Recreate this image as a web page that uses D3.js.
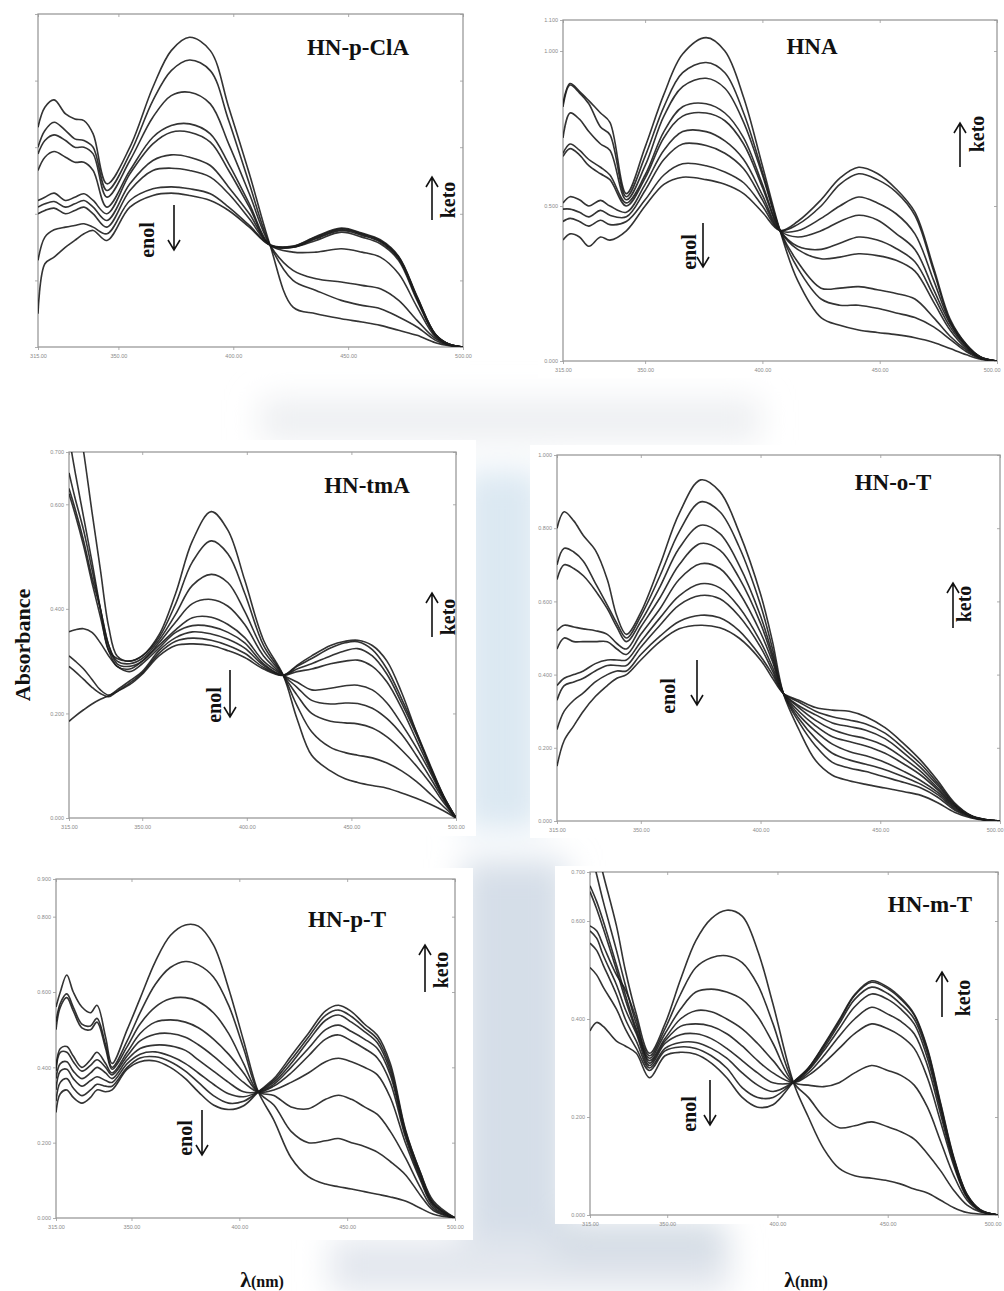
<!DOCTYPE html>
<html><head><meta charset="utf-8">
<script src="https://cdn.jsdelivr.net/npm/d3@7"></script>
<style>
html,body{margin:0;padding:0;background:#fff;}
svg{display:block;}
</style></head><body>
<svg id="fig" width="1004" height="1291"></svg>
<script>
// ---------------- DATA ----------------
const panelTitles = ["HN-p-ClA","HNA","HN-tmA","HN-o-T","HN-p-T","HN-m-T"];
const xTickValues = [315,350,400,450,500];
const xTickLabels = ["315.00","350.00","400.00","450.00","500.00"];
const yMaxes = [1.0,1.1,0.7,1.0,0.9,0.7];
const yTicks1 = [0,0.2,0.4,0.6,0.8,1.0];
const yTicks2 = [0,0.5,1.0,1.1];
const yTicks3 = [0,0.2,0.4,0.6,0.7];
const yTicks4 = [0,0.2,0.4,0.6,0.8,1.0];
const yTicks5 = [0,0.2,0.4,0.6,0.8,0.9];
const yTicks6 = [0,0.2,0.4,0.6,0.7];
const yLabels1 = ["","","","","",""];
const yLabels2 = ["0.000","0.500","1.000","1.100"];
const yLabels3 = ["0.000","0.200","0.400","0.600","0.700"];
const yLabels4 = ["0.000","0.200","0.400","0.600","0.800","1.000"];
const yLabels5 = ["0.000","0.200","0.400","0.600","0.800","0.900"];
const yLabels6 = ["0.000","0.200","0.400","0.600","0.700"];

// HN-p-ClA
const wl1 = [315,318,322,327,331,335,339,345,355,365,373,381,390,398,407,416,426,436,447,456,464,472,480,488,494,500];
const spectra1 = [
 [0.66,0.72,0.742,0.70,0.685,0.68,0.64,0.49,0.60,0.78,0.89,0.93,0.89,0.72,0.52,0.306,0.12,0.10,0.085,0.075,0.065,0.05,0.035,0.013,0.004,0],
 [0.60,0.65,0.675,0.65,0.625,0.62,0.60,0.47,0.58,0.74,0.83,0.862,0.83,0.68,0.49,0.306,0.20,0.17,0.14,0.125,0.115,0.09,0.06,0.02,0.005,0],
 [0.58,0.62,0.637,0.62,0.60,0.60,0.58,0.45,0.56,0.69,0.755,0.765,0.73,0.61,0.46,0.306,0.23,0.205,0.195,0.185,0.175,0.14,0.08,0.025,0.006,0],
 [0.53,0.57,0.587,0.57,0.555,0.555,0.53,0.42,0.53,0.63,0.665,0.67,0.64,0.55,0.43,0.306,0.285,0.285,0.295,0.285,0.27,0.22,0.12,0.03,0.007,0],
 [0.44,0.45,0.462,0.44,0.45,0.46,0.44,0.40,0.52,0.61,0.645,0.645,0.615,0.53,0.42,0.306,0.30,0.32,0.345,0.33,0.31,0.26,0.14,0.035,0.008,0],
 [0.42,0.43,0.437,0.42,0.43,0.44,0.42,0.38,0.49,0.56,0.577,0.57,0.545,0.48,0.40,0.306,0.30,0.325,0.35,0.335,0.315,0.265,0.145,0.036,0.008,0],
 [0.40,0.41,0.417,0.40,0.41,0.42,0.40,0.36,0.47,0.53,0.537,0.53,0.51,0.46,0.385,0.306,0.30,0.327,0.352,0.338,0.318,0.268,0.148,0.037,0.008,0],
 [0.26,0.33,0.352,0.36,0.365,0.37,0.36,0.34,0.44,0.475,0.481,0.475,0.46,0.42,0.365,0.306,0.302,0.33,0.355,0.34,0.32,0.27,0.15,0.038,0.008,0],
 [0.10,0.25,0.27,0.30,0.32,0.34,0.35,0.32,0.42,0.455,0.462,0.455,0.44,0.41,0.36,0.306,0.303,0.332,0.357,0.342,0.322,0.272,0.152,0.038,0.008,0]
];

// HNA
const wl2 = [315,318,322,326,331,335,342,350,358,366,376,384,392,400,407.5,415,425,433,441,449,457,465,473,480,487,493,500];
const spectra2 = [
 [0.83,0.895,0.87,0.84,0.80,0.77,0.54,0.69,0.86,0.99,1.043,1.00,0.85,0.63,0.421,0.26,0.14,0.115,0.10,0.092,0.085,0.075,0.06,0.04,0.02,0.006,0],
 [0.82,0.89,0.865,0.83,0.755,0.73,0.53,0.66,0.82,0.93,0.963,0.93,0.80,0.61,0.421,0.30,0.20,0.18,0.18,0.17,0.155,0.14,0.11,0.07,0.03,0.008,0],
 [0.72,0.80,0.78,0.74,0.70,0.68,0.52,0.63,0.79,0.885,0.912,0.88,0.77,0.60,0.421,0.32,0.235,0.235,0.24,0.23,0.218,0.20,0.14,0.08,0.035,0.009,0],
 [0.67,0.70,0.68,0.65,0.625,0.60,0.51,0.60,0.74,0.82,0.83,0.80,0.72,0.57,0.421,0.36,0.33,0.335,0.346,0.34,0.325,0.29,0.19,0.10,0.04,0.01,0],
 [0.66,0.685,0.665,0.63,0.604,0.585,0.50,0.59,0.72,0.79,0.80,0.775,0.70,0.56,0.421,0.37,0.36,0.38,0.40,0.39,0.363,0.32,0.21,0.11,0.045,0.011,0],
 [0.51,0.53,0.52,0.50,0.518,0.50,0.48,0.57,0.68,0.74,0.74,0.71,0.65,0.535,0.421,0.40,0.42,0.45,0.47,0.455,0.411,0.36,0.23,0.12,0.048,0.012,0],
 [0.49,0.49,0.48,0.465,0.486,0.47,0.465,0.55,0.65,0.70,0.695,0.67,0.62,0.52,0.421,0.42,0.46,0.50,0.529,0.51,0.475,0.41,0.26,0.125,0.05,0.012,0],
 [0.45,0.46,0.45,0.435,0.454,0.44,0.45,0.52,0.60,0.636,0.63,0.61,0.575,0.50,0.421,0.44,0.50,0.57,0.604,0.585,0.545,0.47,0.29,0.13,0.052,0.013,0],
 [0.39,0.41,0.40,0.37,0.40,0.39,0.42,0.50,0.57,0.593,0.585,0.57,0.54,0.48,0.421,0.45,0.52,0.59,0.625,0.605,0.555,0.48,0.30,0.135,0.053,0.013,0]
];

// HN-tmA
const wl3 = [315,318,322,326,330,334,338,344,350,358,366,374,383,391,399,408,417.4,424,431,440,447,453,460,467,474,481,488,494,500];
const spectra3 = [
 [0.90,0.80,0.70,0.585,0.475,0.365,0.31, 0.30,0.31,0.35,0.43,0.53,0.586,0.55,0.455,0.34,0.273, 0.19,0.12,0.09,0.075,0.068,0.062,0.057,0.048,0.038,0.026,0.014,0],
 [0.73,0.66,0.575,0.49,0.40,0.32,0.305, 0.30,0.31,0.345,0.41,0.49,0.53,0.505,0.43,0.33,0.273, 0.215,0.165,0.135,0.125,0.12,0.115,0.105,0.09,0.07,0.045,0.022,0],
 [0.66,0.61,0.55,0.475,0.40,0.33,0.30, 0.295,0.305,0.34,0.39,0.445,0.466,0.45,0.395,0.32,0.273, 0.235,0.20,0.185,0.182,0.18,0.172,0.155,0.13,0.10,0.065,0.03,0],
 [0.63,0.59,0.53,0.46,0.40,0.33,0.295, 0.29,0.30,0.335,0.375,0.41,0.418,0.405,0.37,0.31,0.273, 0.25,0.225,0.218,0.22,0.219,0.21,0.19,0.16,0.12,0.075,0.035,0],
 [0.62,0.58,0.52,0.45,0.385,0.32,0.29, 0.285,0.30,0.33,0.36,0.383,0.384,0.37,0.345,0.30,0.273, 0.26,0.245,0.248,0.253,0.254,0.245,0.22,0.18,0.135,0.085,0.038,0],
 [0.356,0.36,0.362,0.355,0.335,0.31,0.29, 0.28,0.295,0.325,0.355,0.368,0.366,0.355,0.335,0.295,0.273, 0.28,0.285,0.295,0.30,0.302,0.29,0.26,0.21,0.15,0.09,0.04,0],
 [0.31,0.30,0.285,0.265,0.245,0.235,0.245, 0.262,0.28,0.32,0.345,0.356,0.352,0.342,0.325,0.292,0.273, 0.285,0.295,0.31,0.32,0.324,0.31,0.275,0.22,0.16,0.095,0.042,0],
 [0.29,0.28,0.265,0.25,0.238,0.232,0.242, 0.258,0.277,0.315,0.338,0.344,0.34,0.33,0.315,0.288,0.273, 0.29,0.305,0.325,0.335,0.337,0.322,0.285,0.228,0.165,0.098,0.043,0],
 [0.185,0.195,0.207,0.218,0.227,0.234,0.242, 0.255,0.275,0.31,0.33,0.333,0.33,0.32,0.307,0.285,0.273, 0.292,0.31,0.33,0.338,0.340,0.33,0.30,0.24,0.165,0.095,0.042,0]
];

// HN-o-T
const wl4 = [315,318,322,326,331,336,340,344,350,358,366,375,383,391,400,405,409.5,416,423,430,437,444,452,460,467,474,481,488,494,500];
const spectra4 = [
 [0.80,0.845,0.82,0.78,0.74,0.66,0.56, 0.51,0.57,0.70,0.84,0.932,0.90,0.79,0.62,0.49,0.349, 0.25,0.165,0.125,0.11,0.10,0.09,0.08,0.07,0.05,0.024,0.008,0.002,0],
 [0.70,0.745,0.735,0.71,0.65,0.59,0.54, 0.50,0.56,0.67,0.79,0.872,0.845,0.75,0.59,0.47,0.349, 0.27,0.205,0.16,0.145,0.135,0.12,0.105,0.09,0.065,0.03,0.01,0.003,0],
 [0.66,0.70,0.69,0.67,0.63,0.58,0.53, 0.49,0.545,0.64,0.745,0.808,0.785,0.70,0.56,0.455,0.349, 0.28,0.225,0.185,0.167,0.155,0.14,0.12,0.10,0.072,0.034,0.011,0.003,0],
 [0.52,0.535,0.53,0.525,0.52,0.51,0.485, 0.47,0.53,0.61,0.70,0.758,0.74,0.665,0.54,0.445,0.349, 0.29,0.245,0.21,0.19,0.178,0.16,0.135,0.11,0.078,0.037,0.012,0.003,0],
 [0.47,0.50,0.49,0.49,0.49,0.49,0.47, 0.455,0.51,0.58,0.66,0.703,0.69,0.625,0.515,0.435,0.349, 0.30,0.26,0.23,0.217,0.205,0.185,0.155,0.125,0.085,0.04,0.013,0.003,0],
 [0.37,0.39,0.40,0.41,0.43,0.44,0.44, 0.44,0.49,0.555,0.615,0.648,0.637,0.585,0.49,0.42,0.349, 0.31,0.275,0.25,0.235,0.225,0.205,0.17,0.135,0.09,0.042,0.013,0.003,0],
 [0.33,0.37,0.38,0.39,0.41,0.425,0.425, 0.425,0.475,0.535,0.59,0.616,0.607,0.56,0.475,0.41,0.349, 0.315,0.29,0.268,0.258,0.248,0.225,0.185,0.145,0.097,0.045,0.014,0.004,0],
 [0.25,0.30,0.33,0.35,0.38,0.40,0.41, 0.41,0.455,0.505,0.545,0.562,0.555,0.52,0.45,0.40,0.349, 0.325,0.30,0.285,0.276,0.265,0.24,0.197,0.155,0.103,0.047,0.014,0.004,0],
 [0.15,0.22,0.26,0.30,0.34,0.37,0.39, 0.40,0.44,0.49,0.525,0.535,0.528,0.50,0.44,0.39,0.349, 0.33,0.31,0.303,0.30,0.285,0.255,0.21,0.165,0.11,0.05,0.015,0.004,0]
];

// HN-p-T
const wl5 = [315,317,320,323,327,331,334,338,341,348,354,361,368,375,381,388,395,402,408.8,416,424,432,440,446,452,458,464,470,477,484,490,500];
const spectra5 = [
 [0.56,0.60,0.645,0.60,0.56,0.545,0.565,0.48, 0.41,0.50,0.583,0.68,0.75,0.778,0.775,0.725,0.61,0.47,0.335, 0.26,0.16,0.11,0.09,0.083,0.077,0.07,0.063,0.056,0.045,0.026,0.01,0],
 [0.52,0.57,0.595,0.56,0.515,0.51,0.53,0.46, 0.40,0.47,0.545,0.62,0.665,0.681,0.672,0.64,0.565,0.45,0.335, 0.30,0.23,0.20,0.205,0.211,0.20,0.19,0.175,0.15,0.115,0.06,0.02,0],
 [0.50,0.56,0.585,0.55,0.505,0.50,0.52,0.45, 0.395,0.455,0.515,0.56,0.582,0.585,0.575,0.545,0.49,0.41,0.335, 0.325,0.295,0.29,0.315,0.326,0.315,0.295,0.275,0.23,0.16,0.08,0.025,0],
 [0.40,0.45,0.455,0.43,0.40,0.42,0.44,0.41, 0.385,0.44,0.49,0.52,0.526,0.52,0.505,0.475,0.435,0.385,0.335, 0.34,0.36,0.385,0.415,0.424,0.415,0.40,0.38,0.32,0.20,0.10,0.03,0],
 [0.39,0.44,0.44,0.415,0.39,0.405,0.42,0.40, 0.38,0.43,0.47,0.488,0.49,0.48,0.46,0.43,0.395,0.36,0.335, 0.35,0.385,0.43,0.475,0.486,0.47,0.45,0.425,0.36,0.215,0.105,0.035,0],
 [0.37,0.41,0.415,0.39,0.37,0.385,0.40,0.385, 0.37,0.42,0.45,0.459,0.457,0.445,0.42,0.39,0.36,0.335,0.335, 0.355,0.40,0.45,0.50,0.512,0.495,0.475,0.45,0.38,0.222,0.11,0.036,0],
 [0.34,0.39,0.395,0.37,0.35,0.365,0.375,0.365, 0.36,0.41,0.435,0.441,0.43,0.41,0.385,0.355,0.33,0.322,0.335, 0.36,0.41,0.47,0.525,0.539,0.52,0.495,0.465,0.39,0.228,0.115,0.037,0],
 [0.31,0.36,0.37,0.345,0.325,0.34,0.355,0.35, 0.35,0.40,0.425,0.428,0.415,0.39,0.36,0.325,0.305,0.31,0.335, 0.365,0.42,0.48,0.538,0.552,0.535,0.505,0.475,0.40,0.232,0.12,0.04,0],
 [0.28,0.33,0.34,0.32,0.305,0.32,0.34,0.335, 0.34,0.395,0.415,0.417,0.40,0.37,0.335,0.30,0.288,0.298,0.335, 0.37,0.43,0.49,0.55,0.565,0.548,0.515,0.485,0.41,0.235,0.12,0.045,0]
];

// HN-m-T
const wl6 = [315,318,321,327,331,336,342,349,356,363,370,377,384,391,398,407.2,414,421,428,435,442.7,450,456,462,468,474,480,486,492,500];
const spectra6 = [
 [0.80,0.75,0.695,0.59,0.50,0.41, 0.33,0.39,0.48,0.56,0.605,0.622,0.61,0.54,0.43,0.271, 0.20,0.135,0.095,0.08,0.075,0.07,0.063,0.053,0.045,0.03,0.015,0.005,0.002,0],
 [0.75,0.695,0.64,0.54,0.47,0.39, 0.325,0.38,0.45,0.505,0.525,0.529,0.515,0.47,0.39,0.271, 0.24,0.20,0.178,0.182,0.19,0.18,0.17,0.155,0.125,0.09,0.05,0.02,0.006,0],
 [0.672,0.64,0.60,0.51,0.45,0.38, 0.32,0.37,0.42,0.455,0.461,0.455,0.44,0.405,0.35,0.271, 0.265,0.262,0.27,0.29,0.305,0.295,0.285,0.265,0.22,0.15,0.08,0.03,0.008,0],
 [0.66,0.625,0.585,0.50,0.44,0.375, 0.315,0.36,0.40,0.417,0.415,0.40,0.38,0.35,0.315,0.271, 0.285,0.31,0.34,0.37,0.39,0.38,0.365,0.34,0.28,0.19,0.10,0.035,0.009,0],
 [0.59,0.58,0.55,0.49,0.46,0.40, 0.31,0.355,0.385,0.39,0.385,0.37,0.345,0.315,0.29,0.271, 0.29,0.325,0.365,0.40,0.424,0.41,0.395,0.37,0.305,0.205,0.105,0.037,0.01,0],
 [0.58,0.565,0.53,0.47,0.42,0.37, 0.305,0.35,0.368,0.37,0.36,0.34,0.315,0.29,0.27,0.271, 0.295,0.335,0.38,0.425,0.451,0.44,0.42,0.39,0.32,0.215,0.11,0.039,0.01,0],
 [0.555,0.54,0.51,0.45,0.40,0.355, 0.30,0.34,0.352,0.352,0.34,0.32,0.29,0.265,0.252,0.271, 0.297,0.34,0.39,0.44,0.465,0.452,0.43,0.40,0.33,0.22,0.113,0.04,0.01,0],
 [0.505,0.49,0.465,0.42,0.38,0.34, 0.295,0.335,0.343,0.34,0.325,0.30,0.26,0.24,0.24,0.271, 0.30,0.345,0.395,0.448,0.475,0.462,0.44,0.408,0.337,0.225,0.115,0.041,0.01,0],
 [0.376,0.393,0.385,0.355,0.345,0.33, 0.28,0.325,0.332,0.328,0.31,0.28,0.24,0.22,0.225,0.271, 0.30,0.347,0.398,0.45,0.478,0.465,0.443,0.41,0.34,0.228,0.117,0.042,0.011,0]
];

// ---------------- LAYOUT (positions / styles) ----------------
const layout = [
 {x0:38,x1:463,y0:14,y1:347, bg:[30,0,470,372], title:[358,55], enol:[147,240,174,205,250], keto:[448,200,432,220,177]},
 {x0:563,x1:997,y0:20,y1:361, bg:[538,2,1004,378], title:[812,54], enol:[689,252,703,223,267], keto:[977,134,960,167,123]},
 {x0:69,x1:456,y0:452,y1:818, bg:[30,440,476,836], title:[367,493], enol:[214,705,230,670,717], keto:[448,617,432,637,593]},
 {x0:557,x1:1000,y0:455,y1:821, bg:[530,445,1004,838], title:[893,490], enol:[668,696,697,660,705], keto:[964,604,953,628,583]},
 {x0:56,x1:455,y0:879,y1:1218, bg:[30,868,473,1240], title:[347,927], enol:[185,1138,202,1110,1155], keto:[441,970,425,992,945]},
 {x0:590,x1:998,y0:872,y1:1215, bg:[555,866,1004,1224], title:[930,912], enol:[689,1114,710,1080,1125], keto:[963,998,942,1017,972]}
];
const datasets = [
 {wl:wl1, s:spectra1, yt:yTicks1, yl:yLabels1},
 {wl:wl2, s:spectra2, yt:yTicks2, yl:yLabels2},
 {wl:wl3, s:spectra3, yt:yTicks3, yl:yLabels3},
 {wl:wl4, s:spectra4, yt:yTicks4, yl:yLabels4},
 {wl:wl5, s:spectra5, yt:yTicks5, yl:yLabels5},
 {wl:wl6, s:spectra6, yt:yTicks6, yl:yLabels6}
];

const svg = d3.select('#fig');
const defs = svg.append('defs');
defs.append('filter').attr('id','blur').attr('x','-50%').attr('y','-50%').attr('width','200%').attr('height','200%')
  .append('feGaussianBlur').attr('stdDeviation',16);
defs.append('filter').attr('id','soft').append('feGaussianBlur').attr('stdDeviation',0.35);

svg.append('rect').attr('width',1004).attr('height',1291).attr('fill','#fff');
// faint watermark background
const wm = svg.append('g').attr('filter','url(#blur)');
wm.append('rect').attr('x',260).attr('y',400).attr('width',500).attr('height',40).attr('fill','#eceef1');
wm.append('rect').attr('x',462).attr('y',470).attr('width',80).attr('height',360).attr('fill','#dbe8f2');
wm.append('rect').attr('x',462).attr('y',860).attr('width',105).attr('height',420).attr('fill','#d5dee8');
wm.append('rect').attr('x',330).attr('y',1238).attr('width',400).attr('height',55).attr('fill','#e3e7ee');
wm.append('rect').attr('x',555).attr('y',1222).attr('width',170).attr('height',38).attr('fill','#d3dbe4');

const serif = '"Liberation Serif","Times New Roman",serif';

layout.forEach((L,i)=>{
  const D = datasets[i];
  const g = svg.append('g');
  g.append('rect').attr('x',L.bg[0]).attr('y',L.bg[1]).attr('width',L.bg[2]-L.bg[0]).attr('height',L.bg[3]-L.bg[1]).attr('fill','#fff');
  const x = d3.scaleLinear().domain([315,500]).range([L.x0,L.x1]);
  const y = d3.scaleLinear().domain([0,yMaxes[i]]).range([L.y1,L.y0]);
  const cid = 'clip'+i;
  defs.append('clipPath').attr('id',cid).append('rect').attr('x',L.x0).attr('y',L.y0).attr('width',L.x1-L.x0).attr('height',L.y1-L.y0);

  const styleAxis = sel => {
    sel.select('.domain').remove();
    sel.selectAll('line').attr('stroke','#999').attr('stroke-width',0.8);
    sel.selectAll('text').attr('fill','#8a8a8a').attr('font-size','5.5px').attr('font-family','"Liberation Sans",Arial,sans-serif');
  };
  const xb = g.append('g').attr('transform',`translate(0,${L.y1})`)
    .call(d3.axisBottom(x).tickValues(xTickValues).tickFormat((d,j)=>xTickLabels[j]).tickSize(3).tickPadding(4)).call(styleAxis);
  if (L.x1 > 990) xb.selectAll('text').filter(d=>d===500).attr('text-anchor','end').attr('dx','3');
  g.append('g').attr('transform',`translate(${L.x0},0)`)
    .call(d3.axisLeft(y).tickValues(D.yt).tickFormat((d,j)=>D.yl[j]).tickSize(3).tickPadding(2)).call(styleAxis);
  g.append('g').attr('transform',`translate(0,${L.y0})`)
    .call(d3.axisBottom(x).tickValues(xTickValues).tickFormat('').tickSize(3)).call(styleAxis);
  g.append('g').attr('transform',`translate(${L.x1},0)`)
    .call(d3.axisLeft(y).tickValues(D.yt).tickFormat('').tickSize(3)).call(styleAxis);

  g.append('rect').attr('x',L.x0).attr('y',L.y0).attr('width',L.x1-L.x0).attr('height',L.y1-L.y0)
    .attr('fill','none').attr('stroke','#9a9a9a').attr('stroke-width',1.3);

  const line = d3.line().x((d,j)=>x(D.wl[j])).y(d=>y(d)).curve(d3.curveCatmullRom.alpha(0.5));
  g.append('g').attr('clip-path',`url(#${cid})`).attr('filter','url(#soft)')
    .selectAll('path').data(D.s).join('path')
    .attr('d',line).attr('fill','none').attr('stroke','#1c1c1c').attr('stroke-width',1.6).attr('stroke-opacity',0.9);

  // title
  g.append('text').attr('x',L.title[0]).attr('y',L.title[1]).attr('text-anchor','middle')
    .attr('font-family',serif).attr('font-weight','bold').attr('font-size',23).attr('fill','#111').text(panelTitles[i]);

  // enol label + down arrow
  const [etx,ety,eax,ea0,ea1] = L.enol;
  g.append('text').attr('transform',`translate(${etx},${ety}) rotate(-90)`).attr('text-anchor','middle')
    .attr('dominant-baseline','central').attr('font-family',serif).attr('font-weight','bold').attr('font-size',20).attr('fill','#111').text('enol');
  g.append('path').attr('d',`M${eax},${ea0}L${eax},${ea1}M${eax-6},${ea1-10}L${eax},${ea1}L${eax+6},${ea1-10}`)
    .attr('fill','none').attr('stroke','#111').attr('stroke-width',1.6);
  // keto label + up arrow
  const [ktx,kty,kax,ka0,ka1] = L.keto;
  g.append('text').attr('transform',`translate(${ktx},${kty}) rotate(-90)`).attr('text-anchor','middle')
    .attr('dominant-baseline','central').attr('font-family',serif).attr('font-weight','bold').attr('font-size',20).attr('fill','#111').text('keto');
  g.append('path').attr('d',`M${kax},${ka0}L${kax},${ka1}M${kax-6},${ka1+10}L${kax},${ka1}L${kax+6},${ka1+10}`)
    .attr('fill','none').attr('stroke','#111').attr('stroke-width',1.6);
});

// shared axis titles
svg.append('text').attr('transform','translate(22,645) rotate(-90)').attr('text-anchor','middle')
  .attr('dominant-baseline','central').attr('font-family',serif).attr('font-weight','bold').attr('font-size',22).attr('fill','#111').text('Absorbance');
[262,806].forEach(cx=>{
  const t = svg.append('text').attr('x',cx).attr('y',1287).attr('text-anchor','middle')
    .attr('font-family',serif).attr('font-weight','bold').attr('fill','#111');
  t.append('tspan').attr('font-size',22).text('λ');
  t.append('tspan').attr('font-size',16).text('(nm)');
});
</script>
</body></html>
